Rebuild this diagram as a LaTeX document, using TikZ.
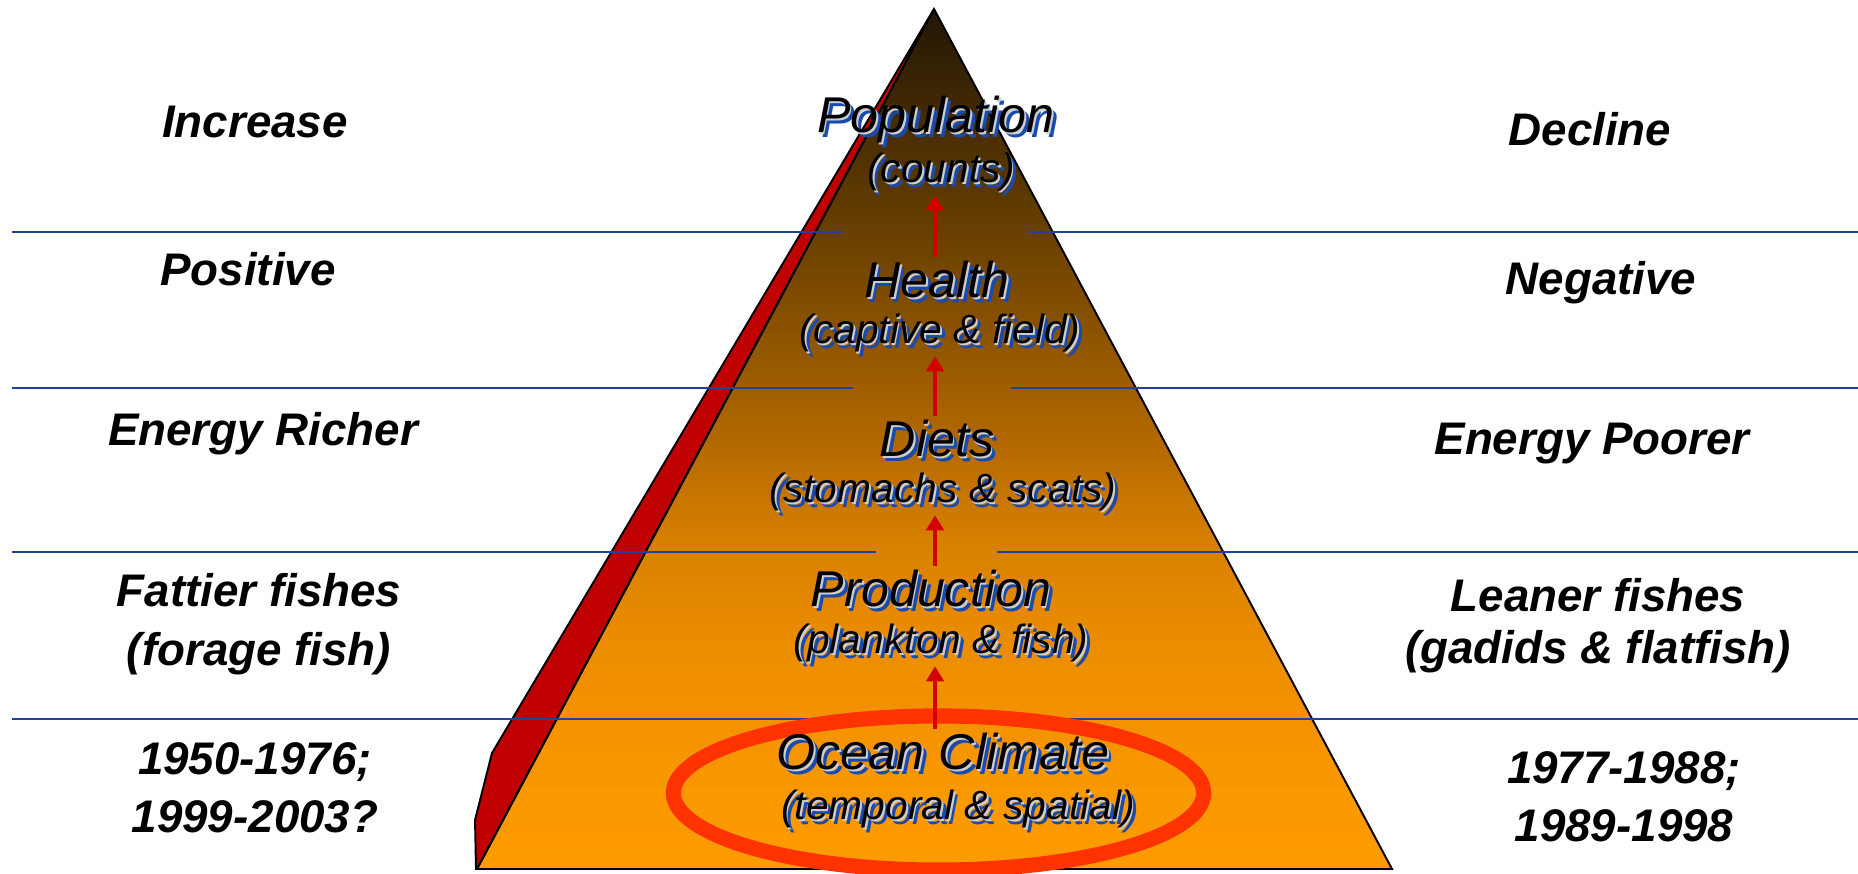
\documentclass[tikz,border=0pt]{standalone}
\usepackage{fontspec}
\setmainfont{Liberation Sans}
\usetikzlibrary{arrows.meta}

\definecolor{fadeA}{RGB}{253,156,0}
\definecolor{fadeB}{RGB}{250,152,0}
\definecolor{fadeC}{RGB}{236,141,0}
\definecolor{fadeD}{RGB}{215,128,0}
\definecolor{fadeE}{RGB}{178,104,0}
\definecolor{fadeF}{RGB}{110,67,0}
\definecolor{fadeG}{RGB}{35,22,5}
\definecolor{sidered}{RGB}{192,0,0}
\definecolor{ruleblue}{RGB}{35,65,155}
\definecolor{liftred}{RGB}{210,0,0}
\definecolor{ringred}{RGB}{255,51,0}
\definecolor{shadowblue}{RGB}{25,75,175}
\definecolor{shadowgrey}{RGB}{205,205,205}

% dark brown at the apex, orange at the base
\pgfdeclareverticalshading{pyramidfade}{100bp}{color(0bp)=(fadeA); color(25bp)=(fadeA);
	color(29.5bp)=(fadeB); color(38bp)=(fadeC); color(44bp)=(fadeD); color(50bp)=(fadeE);
	color(61bp)=(fadeF); color(75bp)=(fadeG); color(100bp)=(fadeG)}

% black text lifted off a grey and a blue copy
\newcommand{\embossed}[1]{%
	\rlap{\kern1.3pt\raisebox{-1.3pt}[0pt][0pt]{\color{shadowblue}#1}}%
	\rlap{\kern0.5pt\raisebox{-0.5pt}[0pt][0pt]{\color{shadowgrey}#1}}%
	#1}

\begin{document}
\begin{tikzpicture}[x=0.01cm, y=-0.01cm,
		rule/.style={draw=ruleblue, line width=0.45pt},
		lift/.style={draw=liftred, line width=1.2pt, -{Triangle[length=4.3pt,width=4.9pt]}},
		level/.style={inner sep=1pt, font=\fontsize{14.3}{16}\selectfont\itshape},
		detail/.style={inner sep=1pt, font=\fontsize{11.6}{13}\selectfont\itshape},
		side/.style={align=center, font=\fontsize{13}{16.6}\selectfont\bfseries\itshape},
		tightside/.style={side, font=\fontsize{13}{14.8}\selectfont\bfseries\itshape}]
	\useasboundingbox (0,0) rectangle (1858,874);

	\coordinate (apex) at (934,9);
	\coordinate (bl) at (477,869);
	\coordinate (br) at (1392,869);
	\coordinate (spine) at (935,0);

	% pyramid with its red side
	\shade[shading=pyramidfade] (apex) -- (bl) -- (br) -- cycle;
	\filldraw[fill=sidered, draw=black, line width=0.55pt]
		(apex) -- (492,753) -- (475,820) -- (476,869) -- (bl) -- cycle;
	\draw[line width=0.55pt] (apex) -- (bl) -- (br) -- cycle;

	% layer rules
	\foreach \y/\a/\b in {232/843/1028, 388/853/1011, 552/876/997}
		\draw[rule] (12,\y) -- (\a,\y) (\b,\y) -- (1858,\y);
	\draw[rule] (12,719) -- (1858,719);

	\draw[draw=ringred, line width=4.3pt] (938.5,793) ellipse [x radius=2.65cm, y radius=0.77cm];

	% levels
	\node[level] (pop) at (936,120) {\embossed{Population}};
	\node[detail] (counts) at (941,172) {\embossed{(counts)}};
	\node[level] (health) at (937,280) {\embossed{Health}};
	\node[detail] (captive) at (940,333) {\embossed{(captive \& field)}};
	\node[level] (diets) at (937,439) {\embossed{Diets}};
	\node[detail] (stomachs) at (943,492) {\embossed{(stomachs \& scats)}};
	\node[level] (prod) at (931,589) {\embossed{Production}};
	\node[detail] (plankton) at (941,643) {\embossed{(plankton \& fish)}};
	\node[level] (climate) at (943,752) {\embossed{Ocean Climate}};
	\node[detail] (temporal) at (958,809) {\embossed{(temporal \& spatial)}};

	\foreach \from/\to in {health/counts, diets/captive, prod/stomachs, climate/plankton}
		\draw[lift] (spine |- \from.north) -- (spine |- \to.south);

	% left column
	\node[side] (increase) at (255,122) {Increase};
	\node[side] (positive) at (248,269) {Positive};
	\node[side] (richer) at (263,434) {Energy Richer};
	\node[side] (fattier) at (259,624) {Fattier fishes\\(forage fish)};
	\node[side] (coldyears) at (255,788) {1950-1976;\\1999-2003?};

	% right column
	\node[side] (decline) at (1590,129) {Decline};
	\node[side] (negative) at (1601,283) {Negative};
	\node[side] (poorer) at (1592,444) {Energy Poorer};
	\node[tightside] (leaner) at (1598,626) {Leaner fishes\\(gadids \& flatfish)};
	\node[side] (warmyears) at (1624,797) {1977-1988;\\1989-1998};
\end{tikzpicture}
\end{document}
